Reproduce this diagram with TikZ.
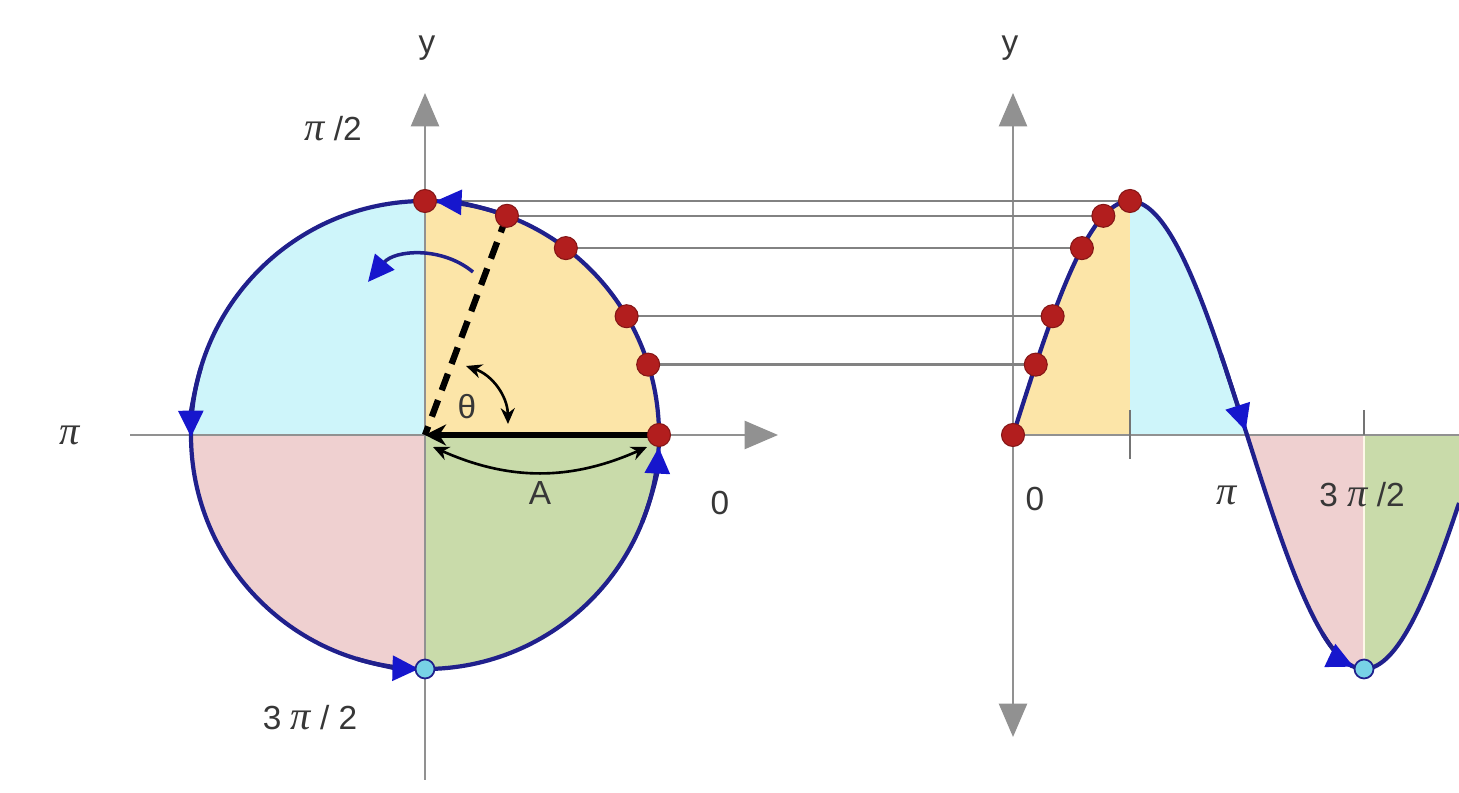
\documentclass[tikz,border=0pt]{standalone}
\usepackage{fontspec}
\setmainfont{Liberation Sans}
\newfontfamily\pif{Liberation Serif}
\usetikzlibrary{arrows.meta}
\definecolor{qyel}{RGB}{252,229,168}
\definecolor{qcya}{RGB}{206,245,250}
\definecolor{qpnk}{RGB}{239,208,208}
\definecolor{qgrn}{RGB}{201,219,170}
\definecolor{navy1}{RGB}{32,32,140}
\definecolor{blu1}{RGB}{22,22,205}
\definecolor{axg}{RGB}{145,145,145}
\definecolor{dotred}{RGB}{178,30,30}
\definecolor{labgray}{RGB}{55,55,55}
\definecolor{dotcy}{RGB}{120,210,230}
\newcommand{\pisym}{{\pif\itshape\fontsize{23}{24}\selectfont π}}
\begin{document}
\begin{tikzpicture}[x=0.02cm,y=0.02cm,
  axisg/.style={draw=axg,line width=1.2pt},
  axtip/.style={-{Triangle[length=19pt,width=16pt]}},
  conn/.style={draw=axg!90!black,line width=1.3pt},
  curve/.style={draw=navy1,line width=2.4pt},
  btip/.style={draw=navy1,line width=2.4pt,-{Triangle[length=15pt,width=14pt,fill=blu1,color=blu1]}},
  rdot/.style={circle,fill=dotred,draw=dotred!75!black,line width=0.6pt,inner sep=0pt,minimum size=0.46cm},
  cdot/.style={circle,fill=dotcy,draw=navy1,line width=1pt,inner sep=0pt,minimum size=0.38cm},
  lab/.style={text=labgray,font=\fontsize{19}{22}\selectfont,inner sep=1pt},
  blk/.style={draw=black,line width=1.5pt}]
\useasboundingbox (0,0) rectangle (1459,793);
\def\R{234}
\coordinate (O) at (425,358);
\coordinate (O2) at (1013,358);
% quadrant fills
\fill[qyel] (O) -- ++(0:\R) arc[start angle=0,end angle=90,radius=\R] -- cycle;
\fill[qcya] (O) -- ++(90:\R) arc[start angle=90,end angle=180,radius=\R] -- cycle;
\fill[qpnk] (O) -- ++(180:\R) arc[start angle=180,end angle=270,radius=\R] -- cycle;
\fill[qgrn] (O) -- ++(270:\R) arc[start angle=270,end angle=360,radius=\R] -- cycle;
% sine fills
\fill[qyel] (1013,358) -- plot[domain=0:90,samples=40] ({1013+1.3*\x},{358+234*sin(\x)}) -- (1130,358) -- cycle;
\fill[qcya] (1130,358) -- plot[domain=90:180,samples=40] ({1013+1.3*\x},{358+234*sin(\x)}) -- (1247,358) -- cycle;
\fill[qpnk] (1247,358) -- plot[domain=180:270,samples=40] ({1013+1.3*\x},{358+234*sin(\x)}) -- (1364,358) -- cycle;
\fill[qgrn] (1364,358) -- plot[domain=270:343.1,samples=40] ({1013+1.3*\x},{358+234*sin(\x)}) -- (1459,358) -- cycle;
\draw[draw=white!75!qyel,line width=0.8pt] (1364,358) -- (1364,130);
% axes left
\coordinate (LxA) at (130,358);
\coordinate (LxB) at (778,358);
\coordinate (LyA) at (425,13);
\coordinate (LyB) at (425,700);
\draw[axisg,axtip] (LxA) -- (LxB);
\draw[axisg,axtip] (LyA) -- (LyB);
% axes right
\coordinate (RxB) at (1459,358);
\coordinate (RyA) at (1013,56);
\coordinate (RyB) at (1013,700);
\draw[axisg] (O2) -- (RxB);
\draw[axisg,axtip] (O2) -- (RyB);
\draw[axisg,axtip] (O2) -- (RyA);
\coordinate (t1a) at (1130,383); \coordinate (t1b) at (1130,334);
\coordinate (t3a) at (1364,383); \coordinate (t3b) at (1364,358);
\draw[draw=axg!80!black,line width=1pt] (t1a) -- (t1b);
\draw[draw=axg!80!black,line width=1pt] (t3a) -- (t3b);
% dots on circle
\foreach \a/\n in {0/c0,17.5/c1,30.5/c2,53/c3,69.5/c4,90/c5}{
  \coordinate (\n) at ([shift={(O)}]\a:\R);
  \coordinate (s\n) at ({1013+1.3*\a},{358+234*sin(\a)});
}
% connectors
\foreach \n in {c1,c2,c3,c4,c5}{ \draw[conn] (\n) -- (s\n); }
% circle and sine curve
\draw[curve] (O) circle[radius=\R];
\draw[curve] plot[domain=0:343.1,samples=160] ({1013+1.3*\x},{358+234*sin(\x)});
% arrowheads on circle
\draw[btip] ([shift={(O)}]72:\R) arc[start angle=72,end angle=87.5,radius=\R];
\draw[btip] ([shift={(O)}]163:\R) arc[start angle=163,end angle=180.5,radius=\R];
\draw[btip] ([shift={(O)}]253:\R) arc[start angle=253,end angle=268.5,radius=\R];
\draw[btip] ([shift={(O)}]-22:\R) arc[start angle=-22,end angle=-3,radius=\R];
% arrowheads on sine
\draw[btip] plot[domain=160:179,samples=20] ({1013+1.3*\x},{358+234*sin(\x)});
\draw[btip] plot[domain=238:262,samples=20] ({1013+1.3*\x},{358+234*sin(\x)});
% black radius, dashed radius, angle arcs
\draw[draw=black,line width=3.4pt,-{Stealth[length=12pt,width=12pt]}] (c0) -- (O);
\draw[draw=black,line width=3.6pt,dash pattern=on 10pt off 6pt] (c4) -- (O);
\coordinate (aL) at (433,346); \coordinate (aR) at (647,346);
\draw[blk,{Stealth[length=9pt,width=8pt]}-{Stealth[length=9pt,width=8pt]}] (aL) to[bend right=24] (aR);
\coordinate (thA) at (466,427); \coordinate (thB) at (508,369);
\draw[blk,{Stealth[length=9pt,width=8pt]}-{Stealth[length=9pt,width=8pt]}] (thA) to[bend left=35] (thB);
\coordinate (bA) at (473,521); \coordinate (bB) at (368,511);
\draw[btip,line width=2pt] (bA) to[bend right=45] (bB);
% dots
\foreach \n in {c0,c1,c2,c3,c4,c5}{
  \node[rdot] (d\n) at (\n) {};
  \node[rdot] (ds\n) at (s\n) {};
}
\node[cdot] (cb) at ([shift={(O)}]270:\R) {};
\node[cdot] (sb) at (1364,124) {};
% labels
\node[lab] (ly1) at (427,745) {y};
\node[lab] (ly2) at (1010,745) {y};
\node[lab] (lpi2) at (333,664) {\pisym\ /2};
\node[lab] (lpi) at (70,358) {\pisym};
\node[lab] (l0) at (720,290) {0};
\node[lab] (l32) at (310,75) {3 \pisym\ / 2};
\node[lab] (lA) at (540,300) {A};
\node[lab] (lth) at (467,386) {θ};
\node[lab] (r0) at (1035,294) {0};
\node[lab] (rpi) at (1227,298) {\pisym};
\node[lab] (r32) at (1362,298) {3 \pisym\ /2};
\end{tikzpicture}
\end{document}
